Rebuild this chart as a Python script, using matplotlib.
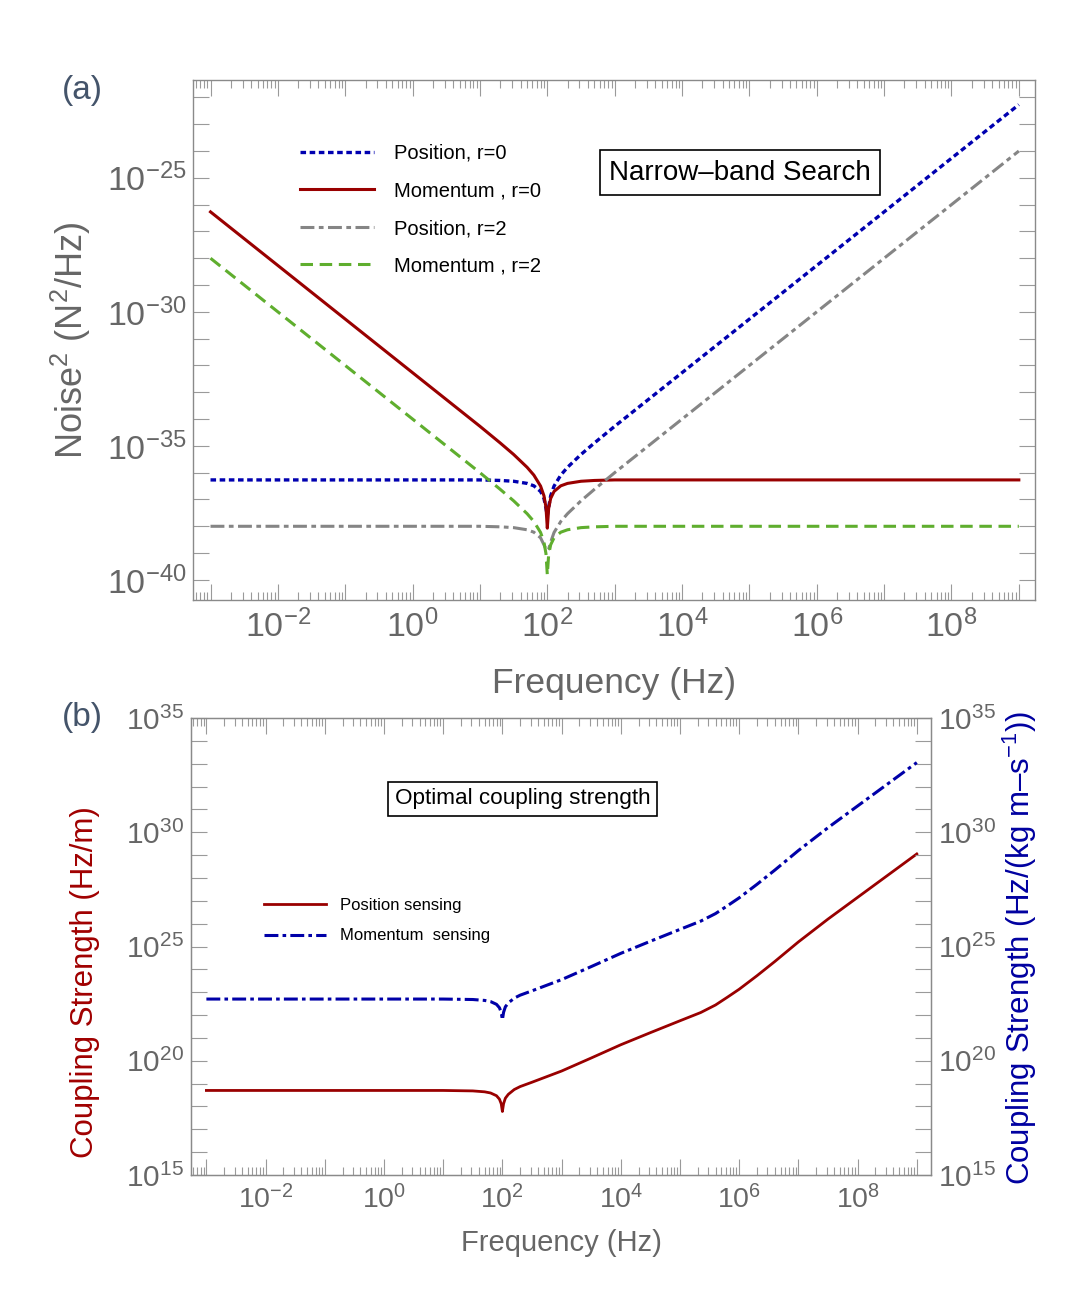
import numpy as np
import matplotlib
matplotlib.use("Agg")
import matplotlib.pyplot as plt
from matplotlib.ticker import FixedLocator, FuncFormatter, NullLocator

plt.rcParams['font.family'] = ['Liberation Sans', 'DejaVu Sans']
plt.rcParams['mathtext.fontset'] = 'custom'
plt.rcParams['mathtext.rm'] = 'Liberation Sans'
plt.rcParams['mathtext.it'] = 'Liberation Sans:italic'
plt.rcParams['mathtext.bf'] = 'Liberation Sans:bold'
plt.rcParams['lines.scale_dashes'] = False

# ---- panel (a): noise spectra, log10 of frequency (Hz) and of noise^2 (N^2/Hz)
freq_a = [-3, -2, -1, 0, 0.5, 1, 1.3, 1.5, 1.7, 1.8, 1.9, 1.95, 1.98, 2.0, 2.02,
          2.05, 2.1, 2.2, 2.3, 2.5, 2.7, 3, 3.5, 4, 5, 6, 7, 8, 9]
pos_r0 = [-36.27, -36.27, -36.27, -36.27, -36.27, -36.27, -36.29, -36.32, -36.40,
          -36.49, -36.70, -36.96, -37.33, -37.60, -37.29, -36.86, -36.50, -36.09,
          -35.80, -35.32, -34.89, -34.27, -33.27, -32.27, -30.27, -28.27, -26.27,
          -24.27, -22.27]
mom_r0 = [-26.27, -28.27, -30.27, -32.27, -33.27, -34.27, -34.89, -35.32, -35.80,
          -36.09, -36.50, -36.86, -37.29, -38.07, -37.33, -36.96, -36.70, -36.49,
          -36.40, -36.32, -36.29, -36.27, -36.27, -36.27, -36.27, -36.27, -36.27,
          -36.27, -36.27]
pos_r2 = [-38.00, -38.00, -38.00, -38.00, -38.00, -38.00, -38.02, -38.05, -38.13,
          -38.22, -38.43, -38.69, -38.85, -38.90, -38.85, -38.59, -38.23, -37.82,
          -37.53, -37.05, -36.62, -36.00, -35.00, -34.00, -32.00, -30.00, -28.00,
          -26.00, -24.00]
mom_r2 = [-28.00, -30.00, -32.00, -34.00, -35.00, -36.00, -36.62, -37.05, -37.53,
          -37.82, -38.23, -38.59, -39.02, -39.81, -39.06, -38.69, -38.43, -38.22,
          -38.13, -38.05, -38.02, -38.00, -38.00, -38.00, -38.00, -38.00, -38.00,
          -38.00, -38.00]

# ---- panel (b): optimal coupling strength, log10 values
freq_b = [-3, -1, 1, 1.5, 1.7, 1.8, 1.9, 1.95, 1.98, 2.0, 2.02, 2.05, 2.1, 2.2, 2.3,
          2.5, 3, 3.5, 4, 4.5, 5, 5.35, 5.6, 5.8, 6.0, 6.3, 6.6, 7, 7.5, 8, 8.5, 9]
coup_pos = [18.70, 18.70, 18.70, 18.68, 18.64, 18.59, 18.47, 18.32, 18.12, 17.78,
            18.12, 18.36, 18.53, 18.74, 18.87, 19.06, 19.55, 20.12, 20.70, 21.23,
            21.75, 22.11, 22.44, 22.78, 23.13, 23.72, 24.34, 25.20, 26.20, 27.15,
            28.10, 29.05]
coup_mom = [22.70, 22.70, 22.70, 22.68, 22.64, 22.59, 22.47, 22.32, 22.12, 21.79,
            22.12, 22.36, 22.53, 22.74, 22.87, 23.06, 23.55, 24.12, 24.70, 25.23,
            25.75, 26.11, 26.44, 26.78, 27.13, 27.72, 28.34, 29.20, 30.20, 31.15,
            32.10, 33.05]

DARKRED = '#990000'
BLUE_A = '#0000b0'
GRAY = '#858585'
GREEN = '#5fae2e'
BLUE_B = '#0000a8'
FRAME = '#8a8a8a'
TICKLBL = '#666666'

W, H = 1091, 1307
fig = plt.figure(figsize=(W / 100, H / 100), dpi=100)

def px_axes(l, t, r, b):
    return fig.add_axes([l / W, 1 - b / H, (r - l) / W, (b - t) / H])

x_major = 10.0 ** np.arange(-3, 10)
x_minor = [s * 10.0 ** e for e in range(-4, 10) for s in range(2, 10)]

def even_label(v, pos):
    e = int(round(np.log10(v)))
    return r'$10^{%d}$' % e if e % 2 == 0 else ''

def five_label(v, pos):
    e = int(round(np.log10(v)))
    return r'$10^{%d}$' % e if e % 5 == 0 else ''

def style_axes(ax, ylo, yhi, tick_fs_x, tick_fs_y, xpad, ypad):
    ax.set_xscale('log')
    ax.set_yscale('log')
    ax.set_xlim(10 ** -3.26, 10 ** 9.24)
    ax.xaxis.set_major_locator(FixedLocator(x_major))
    ax.xaxis.set_minor_locator(FixedLocator(x_minor))
    ax.xaxis.set_major_formatter(FuncFormatter(even_label))
    ax.yaxis.set_major_locator(FixedLocator(10.0 ** np.arange(ylo, yhi + 1)))
    ax.yaxis.set_minor_locator(NullLocator())
    ax.yaxis.set_major_formatter(FuncFormatter(five_label))
    for sp in ax.spines.values():
        sp.set_color(FRAME)
        sp.set_linewidth(1.0)
    ax.tick_params(which='both', direction='in', top=True, right=True,
                   color='#9a9a9a', width=0.8, labelcolor=TICKLBL)
    ax.tick_params(which='major', length=11.5)
    ax.tick_params(which='minor', length=5.5)
    ax.tick_params(axis='x', labelsize=tick_fs_x, pad=xpad)
    ax.tick_params(axis='y', labelsize=tick_fs_y, pad=ypad)

# ================= panel (a)
ax = px_axes(193, 80, 1035, 600)
fa = 10.0 ** np.array(freq_a)
ax.plot(fa, 10.0 ** np.array(pos_r0), color=BLUE_A, lw=2.4,
        ls=(0, (4.0, 2.6)), label='Position, r=0')
ax.plot(fa, 10.0 ** np.array(mom_r0), color=DARKRED, lw=2.2,
        ls='-', label='Momentum , r=0')
ax.plot(fa, 10.0 ** np.array(pos_r2), color=GRAY, lw=2.2,
        ls=(0, (10, 3.2, 3.4, 3.2)), label='Position, r=2')
ax.plot(fa, 10.0 ** np.array(mom_r2), color=GREEN, lw=2.2,
        ls=(0, (9, 4.8)), label='Momentum , r=2')
style_axes(ax, -41, -22, 24.5, 24.5, 7, 5)
ax.set_ylim(10 ** -40.75, 10 ** -21.35)

ax.legend(loc='upper left', bbox_to_anchor=(0.127, 0.877), frameon=False,
          fontsize=14.5, handlelength=3.7, handletextpad=0.95,
          labelspacing=0.92, borderpad=0, borderaxespad=0)
ax.text(0.6496, 0.822, 'Narrow–band Search', transform=ax.transAxes,
        fontsize=20, ha='center', va='center',
        bbox=dict(boxstyle='square,pad=0.34', fc='white', ec='black', lw=1.2))

ax.set_xlabel('Frequency (Hz)', fontsize=25.5, color=TICKLBL)
ax.xaxis.label.set_va('center')
ax.xaxis.set_label_coords(0.5, -0.1615)
ax.set_ylabel(r'Noise$^2$ (N$^2$/Hz)', fontsize=26, color=TICKLBL)
ax.yaxis.label.set_va('center')
ax.yaxis.set_label_coords(-0.1449, 0.5)

# ================= panel (b)
bx = px_axes(191, 718, 931, 1175)
fb = 10.0 ** np.array(freq_b)
l1, = bx.plot(fb, 10.0 ** np.array(coup_pos), color=DARKRED, lw=2.0, ls='-',
              label='Position sensing')
style_axes(bx, 15, 35, 20.5, 21.5, 7, 5)
bx.set_ylim(1e15, 1e35)
bx.tick_params(right=False)

bx2 = bx.twinx()
l2, = bx2.plot(fb, 10.0 ** np.array(coup_mom), color=BLUE_B, lw=2.2,
               ls=(0, (10, 3, 2.6, 3)), label='Momentum  sensing')
bx2.set_yscale('log')
bx2.set_ylim(1e15, 1e35)
bx2.yaxis.set_major_locator(FixedLocator(10.0 ** np.arange(15, 36)))
bx2.yaxis.set_minor_locator(NullLocator())
bx2.yaxis.set_major_formatter(FuncFormatter(five_label))
for sp in bx2.spines.values():
    sp.set_color(FRAME)
bx2.tick_params(which='both', direction='in', color='#9a9a9a', width=0.8,
                length=11.5, labelcolor=TICKLBL, labelsize=21.5, pad=5)

bx.legend(handles=[l1, l2], loc='upper left', bbox_to_anchor=(0.0986, 0.607),
          frameon=False, fontsize=12, handlelength=3.7, handletextpad=0.85,
          labelspacing=0.95, borderpad=0, borderaxespad=0)
bx.text(0.448, 0.823, 'Optimal coupling strength', transform=bx.transAxes,
        fontsize=16.2, ha='center', va='center', zorder=5,
        bbox=dict(boxstyle='square,pad=0.3', fc='white', ec='black', lw=1.2))

bx.set_xlabel('Frequency (Hz)', fontsize=21, color=TICKLBL)
bx.xaxis.label.set_va('center')
bx.xaxis.set_label_coords(0.5, -0.1488)
bx.set_ylabel('Coupling Strength (Hz/m)', fontsize=22.5, color='#a00000')
bx.yaxis.label.set_va('center')
bx.yaxis.set_label_coords(-0.1432, 0.4223)
bx2.set_ylabel(r'Coupling Strength (Hz/(kg m–s$^{-1}$))', fontsize=22.5,
               color='#0000a0', rotation=90)
bx2.yaxis.label.set_va('center')
bx2.yaxis.set_label_coords(1.1203, 0.4967)

fig.text(82 / W, 1 - 90 / H, '(a)', fontsize=24, color='#44546a',
         ha='center', va='center')
fig.text(82 / W, 1 - 717 / H, '(b)', fontsize=24, color='#44546a',
         ha='center', va='center')

fig.savefig('out.png', dpi=100)
